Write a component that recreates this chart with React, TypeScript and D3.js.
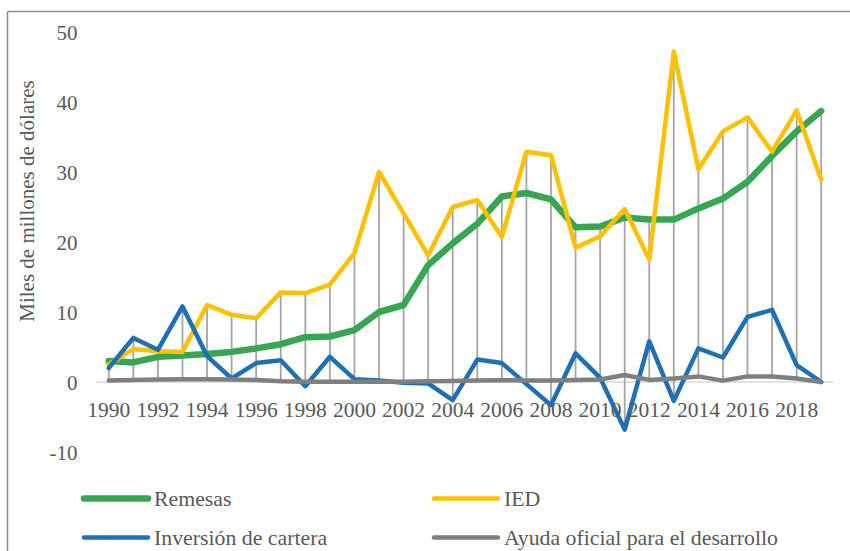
import React from "react";
import * as d3 from "d3";

const years = d3.range(1990, 2020).map(String);
const tickYears = ["1990","1992","1994","1996","1998","2000","2002","2004","2006","2008","2010","2012","2014","2016","2018"];
const yTicks = [-10, 0, 10, 20, 30, 40, 50];

const remesas = [3.0, 2.8, 3.6, 3.8, 4.0, 4.3, 4.8, 5.4, 6.4, 6.5, 7.4, 10.0, 11.0, 16.7, 19.8, 22.6, 26.5, 27.0, 26.1, 22.1, 22.2, 23.5, 23.2, 23.2, 24.8, 26.2, 28.6, 32.3, 35.8, 38.7];
const ied = [2.5, 4.7, 4.4, 4.3, 11.0, 9.6, 9.1, 12.8, 12.7, 13.9, 18.4, 30.0, 24.1, 18.1, 25.0, 26.0, 20.7, 32.9, 32.4, 19.2, 20.8, 24.7, 17.5, 47.2, 30.4, 35.8, 37.8, 32.9, 38.8, 28.9];
const cartera = [2.0, 6.3, 4.6, 10.8, 3.7, 0.5, 2.7, 3.1, -0.6, 3.6, 0.4, 0.2, -0.1, -0.2, -2.6, 3.2, 2.7, -0.3, -3.3, 4.1, 0.6, -6.8, 5.8, -2.7, 4.8, 3.5, 9.3, 10.3, 2.4, 0.0];
const ayuda = [0.2, 0.3, 0.35, 0.4, 0.4, 0.35, 0.3, 0.1, 0.05, 0.05, 0.05, 0.05, 0.05, 0.1, 0.15, 0.2, 0.25, 0.2, 0.2, 0.3, 0.35, 1.0, 0.3, 0.5, 0.8, 0.2, 0.8, 0.8, 0.5, 0.0];

const seriesNames = ["Remesas", "IED", "Inversión de cartera", "Ayuda oficial para el desarrollo"];
const seriesColors = ["#37A653", "#FFC000", "#1F6FB5", "#7F7F7F"];
const seriesWidths = [6.5, 4.5, 4.5, 4.5];

const FONT = "'Liberation Serif', 'Times New Roman', 'DejaVu Serif', serif";
const TEXT = "#595959";
const txt = (size: number): React.CSSProperties => ({ fontFamily: FONT, fontSize: `${size}px` });

export default function App() {
  const x = d3.scaleBand<string>().domain(years).range([96.5, 833.5]).padding(0);
  const cx = (y: string) => (x(y) as number) + x.bandwidth() / 2;
  const y = d3.scaleLinear().domain([-10, 50]).range([452, 32]);
  const all = [remesas, ied, cartera, ayuda];
  const line = d3
    .line<number>()
    .x((_, i) => cx(years[i]))
    .y((d) => y(d));

  const legend = [
    { i: 0, lx: 84, ly: 498.5 },
    { i: 1, lx: 434, ly: 498.5 },
    { i: 2, lx: 84, ly: 537.5 },
    { i: 3, lx: 434, ly: 537.5 },
  ];

  return (
    <svg
      width={850}
      height={551}
      style={{ position: "absolute", left: 0, top: 0, background: "#fff" }}
    >
      <rect x={0} y={0} width={850} height={551} fill="#fff" />
      <line x1={7.5} y1={11.5} x2={850} y2={11.5} stroke="#8c8c8c" strokeWidth={1.5} />
      <line x1={7.5} y1={11.5} x2={7.5} y2={551} stroke="#8c8c8c" strokeWidth={1.5} />

      <line x1={96.5} x2={833.5} y1={y(0)} y2={y(0)} stroke="#D9D9D9" strokeWidth={1.5} />

      {years.map((yr, i) => {
        const vals = all.map((s) => s[i]);
        return (
          <line
            key={yr}
            x1={cx(yr)}
            x2={cx(yr)}
            y1={y(d3.max(vals) as number)}
            y2={y(d3.min(vals) as number)}
            stroke="#A5A5A5"
            strokeWidth={1.8}
          />
        );
      })}

      {all.map((s, k) => (
        <path
          key={k}
          d={line(s) as string}
          fill="none"
          stroke={seriesColors[k]}
          strokeWidth={seriesWidths[k]}
          strokeLinejoin="round"
          strokeLinecap="round"
        />
      ))}

      {yTicks.map((t) => (
        <text key={t} x={77.5} y={y(t) + 7.5} textAnchor="end" style={txt(21)} fill={TEXT}>
          {t}
        </text>
      ))}

      {tickYears.map((t) => (
        <text key={t} x={cx(t)} y={417} textAnchor="middle" style={txt(21.5)} fill={TEXT}>
          {t}
        </text>
      ))}

      <text
        transform="translate(34,201) rotate(-90)"
        textAnchor="middle"
        style={txt(21)}
        fill={TEXT}
      >
        Miles de millones de dólares
      </text>

      {legend.map((l) => (
        <g key={l.i}>
          <line
            x1={l.lx}
            x2={l.lx + 64}
            y1={l.ly}
            y2={l.ly}
            stroke={seriesColors[l.i]}
            strokeWidth={seriesWidths[l.i]}
            strokeLinecap="round"
          />
          <text x={l.lx + 70} y={l.ly + 7.5} style={txt(21.8)} fill={TEXT}>
            {seriesNames[l.i]}
          </text>
        </g>
      ))}
    </svg>
  );
}
